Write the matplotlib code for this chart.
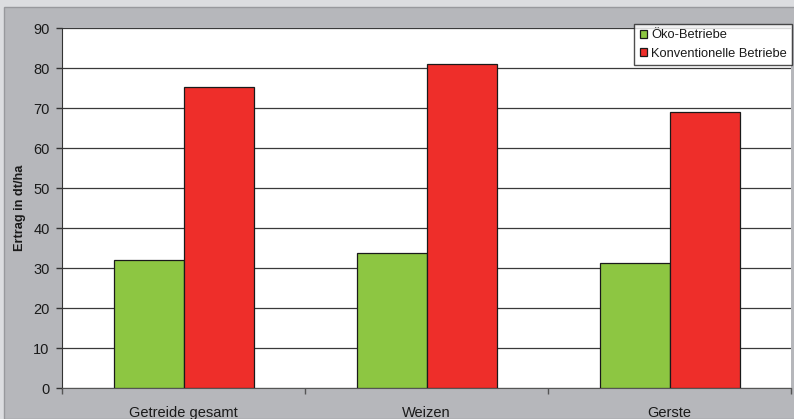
import matplotlib
matplotlib.use("Agg")
import matplotlib.pyplot as plt
from matplotlib.patches import Rectangle
import numpy as np

categories = ["Getreide gesamt", "Weizen", "Gerste"]
oeko = [32, 33.7, 31.3]
konv = [75.2, 80.9, 69]
series_names = ["Öko-Betriebe", "Konventionelle Betriebe"]

plt.rcParams['font.family'] = ['Liberation Sans', 'DejaVu Sans']

W, H = 794, 419
fig = plt.figure(figsize=(W/100, H/100), dpi=100)
fig.patch.set_facecolor('#dcdde0')
bg = Rectangle((4/W, 0), 1, (H-7)/H, transform=fig.transFigure,
               facecolor='#b6b7bb', edgecolor='#98999d', linewidth=1.0, zorder=-10)
fig.patches.append(bg)

ax = fig.add_axes([62/W, (H-388)/H, (791-62)/W, 360/H])
ax.set_zorder(5)
ax.set_facecolor('white')

x = np.arange(len(categories))
bw = 70/243
ax.bar(x - bw/2, oeko, bw, color='#8dc642', edgecolor='#1a1a1a', linewidth=0.9, label=series_names[0], zorder=3)
ax.bar(x + bw/2, konv, bw, color='#ee2e2a', edgecolor='#1a1a1a', linewidth=0.9, label=series_names[1], zorder=3)

ax.set_xlim(-0.5, len(categories) - 0.5)
ax.set_ylim(0, 90)
ax.set_yticks(np.arange(0, 91, 10))
ax.yaxis.grid(True, color='#3a3a3a', linewidth=0.9)
ax.set_axisbelow(True)

ax.set_xticks(x)
ax.set_xticklabels(categories, fontsize=10.5, color='#1a1a1a')
ax.set_xticks(np.arange(-0.5, len(categories), 1), minor=True)
ax.tick_params(axis='x', which='major', length=0, pad=13)
ax.tick_params(axis='x', which='minor', length=4, width=1, color='#555555', direction='out')
ax.tick_params(axis='y', length=4, width=1, color='#333333', labelsize=10.5, labelcolor='#1a1a1a', pad=5, direction='out')

for s in ['top', 'right']:
    ax.spines[s].set_visible(False)
ax.spines['left'].set_color('#333333')
ax.spines['bottom'].set_color('#555555')

ax.set_ylabel("Ertrag in dt/ha", fontsize=9.2, fontweight='bold', labelpad=5, color='#1a1a1a')

leg = ax.legend(loc='upper right', bbox_to_anchor=(1.0015, 1.011), fontsize=9.3, frameon=True,
                fancybox=False, edgecolor='#222222', handlelength=0.55, handleheight=0.55,
                handletextpad=0.35, borderpad=0.4, labelspacing=0.5, borderaxespad=0)
leg.get_frame().set_linewidth(1.0)
for t in leg.get_texts():
    t.set_color('#1a1a1a')

fig.savefig("out.png", dpi=100, facecolor=fig.get_facecolor())
